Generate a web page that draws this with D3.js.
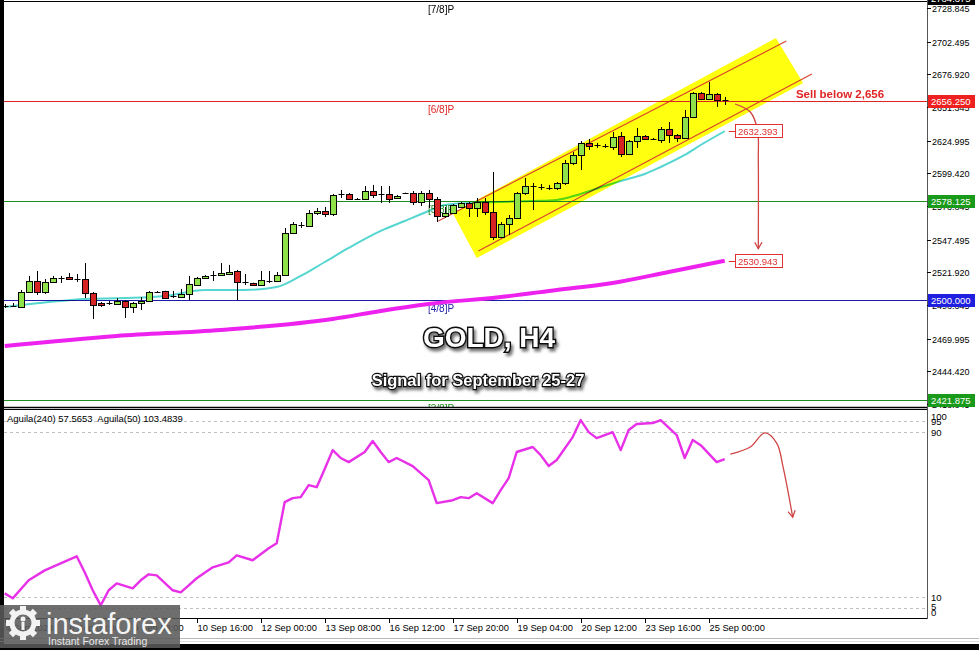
<!DOCTYPE html>
<html><head><meta charset="utf-8">
<script src="https://cdn.jsdelivr.net/npm/d3@7"></script>
<style>body{margin:0;background:#fff;overflow:hidden}svg{display:block}</style>
</head><body>
<svg id="c" width="979" height="650"></svg>
<script>
// ---------- DATA ----------
const candleOpen = [2495.4,2495.6,2494.8,2506.5,2515.1,2506.5,2514.4,2517.3,2518.3,2516.7,
2516.7,2505.8,2497.9,2497.9,2497.1,2499.5,2494.8,2497.9,2499.5,2506.5,
2507.3,2503.4,2502.6,2505.0,2512.0,2517.5,2519.8,2519.8,2520.6,2523.0,
2514.4,2513.6,2512.0,2515.1,2515.1,2519.8,2552.7,2559.0,2558.2,2568.4,
2569.9,2567.6,2583.3,2583.3,2579.3,2579.3,2585.6,2583.3,2583.3,2580.1,
2584.0,2584.0,2577.0,2584.0,2579.3,2566.0,2568.4,2573.1,2576.2,2572.3,
2577.0,2569.2,2549.6,2559.8,2564.5,2584.0,2589.5,2588.7,2587.9,2587.9,
2591.9,2607.5,2613.8,2623.2,2621.6,2620.8,2620.0,2628.7,2614.6,2624.7,
2628.7,2626.3,2625.5,2634.1,2629.4,2627.1,2643.5,2662.3,2657.6,2661.5,2656.8];
const candleHigh = [2497.1,2497.9,2508.1,2519.1,2523.0,2516.7,2519.1,2519.1,2521.4,2520.6,
2529.2,2506.5,2498.7,2499.5,2501.8,2500.3,2498.7,2502.6,2507.3,2507.3,
2507.5,2507.3,2508.9,2519.1,2518.3,2519.8,2523.0,2529.2,2527.7,2523.8,
2520.6,2513.8,2523.0,2523.0,2522.2,2556.6,2561.3,2561.3,2570.7,2572.3,
2573.1,2583.3,2586.4,2584.0,2580.1,2589.5,2590.3,2589.5,2589.5,2582.5,
2584.3,2585.6,2585.6,2586.4,2580.9,2573.1,2575.4,2577.0,2577.0,2580.1,
2580.1,2600.5,2561.3,2566.8,2584.8,2595.8,2591.9,2591.1,2590.3,2592.6,
2609.9,2616.1,2624.7,2626.3,2623.2,2622.4,2631.8,2631.8,2625.5,2634.9,
2629.4,2627.1,2635.7,2639.6,2630.2,2649.0,2663.1,2663.1,2670.9,2662.3,2659.2];
const candleLow = [2494.0,2494.8,2494.0,2505.8,2504.2,2505.0,2513.6,2513.6,2516.7,2514.4,
2501.8,2485.4,2494.8,2496.4,2496.4,2486.2,2490.1,2492.4,2498.7,2505.8,
2501.1,2501.8,2501.8,2500.3,2511.2,2516.7,2515.1,2519.1,2519.8,2500.3,
2512.0,2511.2,2511.2,2513.6,2514.4,2519.1,2551.9,2556.6,2557.4,2566.8,
2565.2,2566.0,2580.1,2578.6,2578.6,2578.6,2580.1,2576.2,2576.2,2579.3,
2583.5,2574.6,2573.9,2572.3,2561.3,2564.5,2567.6,2572.3,2565.2,2565.2,
2566.8,2547.2,2548.8,2551.2,2563.7,2582.5,2570.7,2586.4,2586.4,2586.4,
2590.3,2606.0,2602.0,2617.7,2619.3,2619.3,2617.7,2612.2,2613.8,2619.3,
2625.5,2625.5,2623.2,2623.2,2624.0,2626.3,2642.7,2656.8,2656.8,2651.4,2652.9];
const candleClose = [2495.8,2495.4,2506.5,2515.1,2506.5,2514.4,2517.5,2517.5,2516.7,2516.9,
2505.8,2496.4,2496.4,2498.1,2499.5,2494.8,2497.9,2499.5,2506.5,2506.7,
2501.8,2503.6,2505.0,2512.8,2517.5,2519.1,2520.0,2521.4,2522.2,2514.4,
2514.6,2512.0,2515.9,2515.3,2519.8,2552.7,2559.8,2559.2,2568.4,2569.9,
2567.6,2582.5,2583.5,2579.3,2579.5,2585.6,2582.5,2583.5,2579.3,2581.7,
2584.0,2577.0,2584.0,2579.3,2566.0,2568.4,2574.6,2576.2,2572.3,2577.0,
2569.2,2549.6,2559.8,2564.5,2584.0,2589.5,2589.7,2588.9,2588.1,2591.9,
2607.5,2613.8,2623.2,2620.8,2621.8,2621.0,2627.9,2614.6,2624.7,2628.7,
2626.3,2626.5,2634.1,2629.4,2627.1,2643.5,2662.3,2657.6,2661.5,2656.8,2657.0];

// fast MA (cyan) sampled at bar indices
const maFastIdx = [0,5,10,15,20,25,30,34,37,40,43,47,50,53,55,58,62,66,69,72,75,77,80,82,85,87,90];
const maFastVal = [2494.8,2498.3,2501.1,2501.8,2503.4,2508.1,2508.1,2510.4,2519.1,2530.0,2541.0,2554.3,2562.1,2569.9,2574.6,2576.2,2577.0,2577.8,2578.6,2583.3,2589.5,2593.4,2598.9,2604.4,2613.8,2621.6,2632.393];
// slow MA (magenta)
const maSlowIdx = [0,14,27,41,47,53,62,69,76,83,90];
const maSlowVal = [2464.2,2472.1,2476.8,2485.4,2491.7,2497.1,2502.6,2508.1,2513.6,2522.2,2530.943];

// oscillator Aguila
const oscIdx = [0,1,3,5,7,9,10,11,12,13,14,16,17,18,19,21,22,23,24,26,28,29,31,33,34,35,36,37,38,39,40,41,42,43,45,46,47,48,49,51,53,54,56,57,58,59,61,62,63,64,66,67,68,69,71,72,73,74,76,77,78,79,81,82,84,85,86,87,89,90];
const oscVal = [11.9,9.5,18.2,23.0,26.4,29.8,22.1,13.4,6.1,13.4,16.7,14.3,18.2,21.1,20.6,13.4,12.4,15.8,19.2,24.5,26.9,30.3,27.9,33.7,36.1,56.0,57.9,58.4,64.2,63.2,72.0,81.1,77.3,75.3,80.2,85.5,80.2,75.3,77.3,73.4,66.6,55.5,56.9,58.4,57.9,60.3,55.5,61.8,67.6,80.2,82.6,78.7,73.4,76.3,87.4,95.6,89.8,86.9,89.8,81.1,90.8,93.7,94.2,95.6,88.4,77.3,86.0,83.5,75.3,76.8];

const priceTicks = [2728.845,2702.495,2676.920,2651.345,2624.995,2599.420,2573.845,2547.495,2521.920,2496.345,2469.995,2444.420,2418.845];
const oscTicks = [100,95,90,10,5,0];
const oscDashed = [95,90,10,5];
const timeTickIdx = [0,8,16,24,32,40,48,56,64,72,80,88];
const timeTickLabels = ["4 Sep 2024","6 Sep 00:00","9 Sep 08:00","10 Sep 16:00","12 Sep 00:00","13 Sep 08:00","16 Sep 12:00","17 Sep 20:00","19 Sep 04:00","20 Sep 12:00","23 Sep 16:00","25 Sep 00:00"];

const levelVals = [2734.375,2656.250,2578.125,2500.000,2421.875];
const levelNames = ["[7/8]P","[6/8]P","[5/8]P","[4/8]P","[3/8]P"];
const levelColors = ["#000000","#e02424","#1e8c1e","#1c1ca8","#1e8c1e"];
const levelBoxColors = ["#000000","#ee2020","#1a9a1a","#1f1fe0","#1a9a1a"];

const channelPoly = [[56.0,2568.4],[96.4,2705.4],[99.8,2670.1],[59.0,2533.1]];
const channelUpper = [[54.2,2562.1],[97.7,2703.0]];
const channelLower = [[59.2,2538.6],[100.9,2677.2]];
const mainArrow = [[91.3,2653.7],[93.2,2647.4],[94.1,2633.3],[94.2,2609.9],[94.2,2540.5]];
const oscArrow = [[90.7,79.2],[93.2,82.6],[95.0,89.4],[96.5,84.5],[97.3,72.9],[98.5,48.7]];

// ---------- LAYOUT ----------
const plotL = 4, plotR = 927, mainB = 407, indT = 410, indB = 618;
const FONT = "'Liberation Sans', Arial, sans-serif";
const svg = d3.select('#c');
const x = d3.scaleLinear().domain([0, 90]).range([4.7, 724.7]);
const y = d3.scaleLinear().domain([2418.845, 2728.845]).range([404, 8]);
const yi = d3.scaleLinear().domain([0, 100]).range([618, 411]);
const px = v => Math.round(x(v)) + 0.5;

const defs = svg.append('defs');
defs.append('clipPath').attr('id','mainClip').append('rect').attr('x',plotL).attr('y',0).attr('width',plotR-plotL).attr('height',mainB);
defs.append('clipPath').attr('id','indClip').append('rect').attr('x',plotL).attr('y',indT).attr('width',plotR-plotL).attr('height',indB-indT);
const f = defs.append('filter').attr('id','shadow').attr('x','-20%').attr('y','-40%').attr('width','140%').attr('height','180%');
f.append('feDropShadow').attr('dx',2).attr('dy',3).attr('stdDeviation',1.6).attr('flood-color','#000').attr('flood-opacity',0.55);
const mk = defs.append('marker').attr('id','arr').attr('viewBox','0 0 10 10').attr('refX',8).attr('refY',5)
  .attr('markerWidth',7).attr('markerHeight',7).attr('orient','auto-start-reverse');
mk.append('path').attr('d','M1,1 L8,5 L1,9').attr('fill','none').attr('stroke','#d04545').attr('stroke-width',1.4);

svg.append('rect').attr('width',979).attr('height',650).attr('fill','#fff');

// ---------- MAIN PANEL ----------
const main = svg.append('g').attr('clip-path','url(#mainClip)');

const ptStr = pts => pts.map(p => [x(p[0]), y(p[1])]);
main.append('polygon').attr('points', ptStr(channelPoly).map(p=>p.join(',')).join(' ')).attr('fill','#ffff10');
const lineXY = d3.line().x(d=>x(d[0])).y(d=>y(d[1]));
[channelUpper, channelLower].forEach(l => main.append('path').attr('d', lineXY(l)).attr('stroke','#d8402a').attr('stroke-width',1.1).attr('fill','none'));

levelVals.forEach((v,k) => {
  const yy = Math.round(y(v)) + 0.5;
  main.append('line').attr('x1',plotL).attr('x2',plotR).attr('y1',yy).attr('y2',yy).attr('stroke',levelColors[k]).attr('stroke-width',1);
  main.append('text').attr('x',428).attr('y',yy+11).attr('font-family',FONT).attr('font-size',10)
    .attr('fill',levelColors[k]).text(levelNames[k]);
});

const maLine = d3.line().x(d=>x(d[0])).y(d=>y(d[1])).curve(d3.curveMonotoneX);
main.append('path').attr('d', maLine(maSlowIdx.map((d,k)=>[d,maSlowVal[k]])))
  .attr('stroke','#ee22ee').attr('stroke-width',4).attr('fill','none');
main.append('path').attr('d', maLine(maFastIdx.map((d,k)=>[d,maFastVal[k]])))
  .attr('stroke','#55d6d0').attr('stroke-width',2).attr('fill','none').style('mix-blend-mode','multiply');

const cg = main.append('g');
candleOpen.forEach((o,i) => {
  const c = candleClose[i], h = candleHigh[i], l = candleLow[i];
  const cx = px(i);
  cg.append('line').attr('x1',cx).attr('x2',cx).attr('y1',y(h)).attr('y2',y(l)).attr('stroke','#000').attr('stroke-width',1);
  const top = Math.round(y(Math.max(o,c))) + 0.5, bot = Math.round(y(Math.min(o,c))) + 0.5;
  if (bot - top < 1.5) {
    cg.append('line').attr('x1',cx-3).attr('x2',cx+3).attr('y1',top).attr('y2',top).attr('stroke','#000').attr('stroke-width',1);
  } else {
    cg.append('rect').attr('x',cx-3).attr('y',top).attr('width',6).attr('height',bot-top)
      .attr('fill', c > o ? '#8fe24a' : '#d62424').attr('stroke','#000').attr('stroke-width',1);
  }
});

main.append('path').attr('d', d3.line().x(d=>x(d[0])).y(d=>y(d[1])).curve(d3.curveCatmullRom)(mainArrow))
  .attr('fill','none').attr('stroke','#d04545').attr('stroke-width',1.3).attr('marker-end','url(#arr)');
main.append('text').attr('x', x(98.9)).attr('y', y(2656.25)-3).attr('font-family',FONT).attr('font-weight','bold')
  .attr('font-size',11.5).attr('fill','#e02424').text('Sell below 2,656');

[[maFastVal[maFastVal.length-1]],[maSlowVal[maSlowVal.length-1]]].forEach(([v]) => {
  const yy = Math.round(y(v));
  const g = main.append('g');
  g.append('rect').attr('x',735.5).attr('y',yy-6.5).attr('width',47).attr('height',13).attr('fill','#fff').attr('stroke','#e03030');
  g.append('text').attr('x',738).attr('y',yy+3.5).attr('font-family',FONT).attr('font-size',9.5).attr('fill','#e03030').text(v.toFixed(3));
  main.append('line').attr('x1',x(90)+4).attr('x2',735).attr('y1',yy+0.5).attr('y2',yy+0.5).attr('stroke','#e03030');
});

svg.append('text').attr('x',489).attr('y',347).attr('text-anchor','middle').attr('font-family',FONT)
  .attr('font-weight','bold').attr('font-size',28).attr('fill','#fff').attr('stroke','#111').attr('stroke-width',2.8)
  .attr('paint-order','stroke').attr('filter','url(#shadow)').text('GOLD, H4');
svg.append('text').attr('x',478).attr('y',386).attr('text-anchor','middle').attr('font-family',FONT)
  .attr('font-weight','bold').attr('font-size',16.5).attr('fill','#fff').attr('stroke','#111').attr('stroke-width',2.3)
  .attr('paint-order','stroke').attr('filter','url(#shadow)').text('Signal for September 25-27');

// ---------- INDICATOR PANEL ----------
const ind = svg.append('g').attr('clip-path','url(#indClip)');
oscDashed.forEach(v => {
  const yy = Math.round(yi(v)) + 0.5;
  ind.append('line').attr('x1',plotL).attr('x2',plotR).attr('y1',yy).attr('y2',yy).attr('stroke','#c0c0c0').attr('stroke-dasharray','3,3');
});
ind.append('path').attr('d', d3.line().x(d=>x(d[0])).y(d=>yi(d[1]))(oscIdx.map((d,k)=>[d,oscVal[k]])))
  .attr('fill','none').attr('stroke','#e830e8').attr('stroke-width',2.4).attr('stroke-linejoin','round');
ind.append('path').attr('d', d3.line().x(d=>x(d[0])).y(d=>yi(d[1])).curve(d3.curveCatmullRom)(oscArrow))
  .attr('fill','none').attr('stroke','#d04545').attr('stroke-width',1.3).attr('marker-end','url(#arr)');
svg.append('text').attr('x',7).attr('y',422).attr('font-family',FONT).attr('font-size',9.5).attr('fill','#000')
  .style('white-space','pre').text('Aguila(240) 57.5653  Aguila(50) 103.4839');

// ---------- FRAME ----------
svg.append('rect').attr('x',0).attr('y',0).attr('width',plotL).attr('height',650).attr('fill','#000');
svg.append('line').attr('x1',plotL).attr('x2',plotR).attr('y1',407.5).attr('y2',407.5).attr('stroke','#000').attr('stroke-width',1.5);
svg.append('line').attr('x1',plotL).attr('x2',plotR).attr('y1',409.5).attr('y2',409.5).attr('stroke','#000').attr('stroke-width',1);
svg.append('line').attr('x1',plotL).attr('x2',plotR).attr('y1',618.5).attr('y2',618.5).attr('stroke','#000').attr('stroke-width',1);
svg.append('line').attr('x1',plotR+0.5).attr('x2',plotR+0.5).attr('y1',0).attr('y2',619).attr('stroke','#555').attr('stroke-width',1);

const pa = svg.append('g').attr('font-family',FONT).attr('font-size',9).attr('fill','#000');
priceTicks.forEach(v => {
  const yy = Math.round(y(v)) + 0.5;
  pa.append('line').attr('x1',plotR).attr('x2',plotR+4).attr('y1',yy).attr('y2',yy).attr('stroke','#000');
  pa.append('text').attr('x',plotR+5).attr('y',yy+3.5).text(v.toFixed(3));
});
levelVals.forEach((v,k) => {
  const yy = Math.round(y(v)) - (k === 0 ? 3 : 0);
  pa.append('rect').attr('x',plotR+1).attr('y',yy-6).attr('width',47).attr('height',13).attr('fill',levelBoxColors[k]);
  pa.append('text').attr('x',plotR+4).attr('y',yy+4).attr('fill','#fff').attr('font-size',9.5).text(v.toFixed(3));
});
const oscLabelY = {100:416,95:421,90:432,10:597,5:606,0:612};
oscTicks.forEach(v => {
  pa.append('text').attr('x',plotR+4).attr('y',oscLabelY[v]+3.5).attr('font-size',9.5).text(v);
});

const ta = svg.append('g').attr('font-family',FONT).attr('font-size',9.3).attr('fill','#000');
timeTickIdx.forEach((i,k) => {
  const xx = px(i);
  ta.append('line').attr('x1',xx).attr('x2',xx).attr('y1',619).attr('y2',623).attr('stroke','#000');
  ta.append('text').attr('x',xx).attr('y',631).text(timeTickLabels[k]);
});

svg.append('line').attr('x1',0).attr('x2',979).attr('y1',638.5).attr('y2',638.5).attr('stroke','#b8b8b8');
svg.append('line').attr('x1',0).attr('x2',979).attr('y1',641.5).attr('y2',641.5).attr('stroke','#dcdcdc');
svg.append('rect').attr('x',0).attr('y',644).attr('width',979).attr('height',6).attr('fill','#000');

// logo
const lg = svg.append('g');
lg.append('rect').attr('x',0).attr('y',605).attr('width',180).attr('height',43).attr('fill','#5a5a5a').attr('opacity',0.88);
const gx = 23, gy = 623;
for (let a = 0; a < 8; a++) {
  lg.append('rect').attr('x',gx-3).attr('y',gy-17).attr('width',6).attr('height',7).attr('fill','#f2f2f2')
    .attr('transform',`rotate(${a*45},${gx},${gy})`);
}
lg.append('circle').attr('cx',gx).attr('cy',gy).attr('r',11).attr('fill','none').attr('stroke','#f2f2f2').attr('stroke-width',5);
lg.append('circle').attr('cx',gx).attr('cy',gy-4).attr('r',2.5).attr('fill','#f2f2f2');
lg.append('rect').attr('x',gx-1.5).attr('y',gy-1).attr('width',3).attr('height',8).attr('fill','#f2f2f2');
lg.append('text').attr('x',46).attr('y',634).attr('font-family',FONT).attr('font-size',29).attr('fill','#f4f4f4').text('instaforex');
lg.append('text').attr('x',48).attr('y',645).attr('font-family',FONT).attr('font-size',10.5).attr('fill','#e8e8e8').text('Instant Forex Trading');
</script>
</body></html>
